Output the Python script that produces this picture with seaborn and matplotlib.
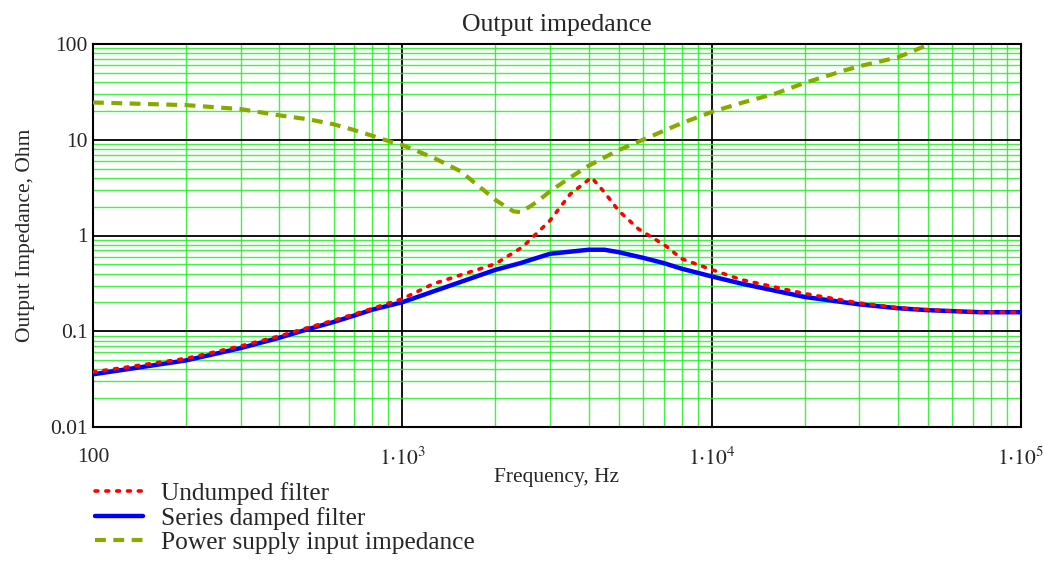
import matplotlib.pyplot as plt
import matplotlib.ticker as mticker
import seaborn as sns
import numpy as np
import pandas as pd

# values
freq_undamped = [100, 200, 300, 400, 500, 600, 700, 800, 1000, 1260, 2000, 2445, 3000, 3490,
                 4090, 4500, 5000, 5800, 7100, 8000, 10000, 12500, 20000, 30000, 40000, 50000,
                 74000, 100000]
z_undamped = [0.0375, 0.052, 0.070, 0.089, 0.110, 0.130, 0.151, 0.173, 0.218, 0.313, 0.506,
              0.757, 1.43, 2.71, 4.04, 2.83, 1.82, 1.17, 0.78, 0.571, 0.44, 0.345, 0.247,
              0.197, 0.176, 0.168, 0.158, 0.158]

freq_damped = [100, 200, 300, 400, 500, 600, 700, 800, 1000, 2000, 2405, 3000, 4000, 4500,
               5000, 6000, 7000, 8000, 10000, 12500, 20000, 30000, 40000, 50000, 74000, 100000]
z_damped = [0.0355, 0.0496, 0.0667, 0.0855, 0.106, 0.125, 0.146, 0.168, 0.201, 0.438, 0.514,
            0.644, 0.71, 0.71, 0.67, 0.585, 0.515, 0.45, 0.374, 0.314, 0.228, 0.191, 0.174,
            0.166, 0.158, 0.158]

freq_supply = [100, 200, 300, 400, 500, 600, 700, 800, 900, 1000, 1260, 1540, 1875, 2000,
               2285, 2415, 2710, 3000, 3490, 4000, 5000, 6000, 7000, 8000, 10000, 12500,
               16000, 20000, 26800, 30000, 40000, 50800]
z_supply = [24.5, 23.0, 20.9, 18.0, 16.3, 14.5, 12.6, 11.0, 9.7, 8.8, 6.5, 4.7, 2.8, 2.35,
            1.79, 1.75, 2.22, 2.89, 4.04, 5.35, 7.8, 10.0, 12.4, 14.9, 19.5, 24.3, 30.2,
            39.3, 52.8, 58.6, 72.6, 100]

series_names = ['Undumped filter', 'Series damped filter', 'Power supply input impedance']
y_ticks = [0.01, 0.1, 1, 10, 100]
y_tick_labels = ['0.01', '0.1', '1', '10', '100']
x_ticks = [100, 1000, 10000, 100000]
x_tick_labels = ['100', r'$1{\cdot}10^{3}$', r'$1{\cdot}10^{4}$', r'$1{\cdot}10^{5}$']

sns.set_style('white')
plt.rcParams['font.family'] = ['Liberation Serif', 'DejaVu Serif']
plt.rcParams['mathtext.fontset'] = 'stix'

fig = plt.figure(figsize=(10.43, 5.80), dpi=100)
ax = fig.add_axes([93 / 1043, 1 - 427 / 580, (1021 - 93) / 1043, (427 - 44) / 580])

df_u = pd.DataFrame({'f': freq_undamped, 'z': z_undamped})
df_d = pd.DataFrame({'f': freq_damped, 'z': z_damped})
df_s = pd.DataFrame({'f': freq_supply, 'z': z_supply})

sns.lineplot(data=df_u, x='f', y='z', ax=ax, color='#ff0000', linewidth=2.6,
             linestyle=(0, (0.8, 2.2)), dash_capstyle='round', label=series_names[0], zorder=4)
sns.lineplot(data=df_d, x='f', y='z', ax=ax, color='#0000ff', linewidth=3.2,
             label=series_names[1], zorder=3)
sns.lineplot(data=df_s, x='f', y='z', ax=ax, color='#88aa00', linewidth=3.0,
             linestyle=(0, (2.6, 1.8)), label=series_names[2], zorder=5)

ax.set_xscale('log')
ax.set_yscale('log')
ax.set_xlim(100, 100000)
ax.set_ylim(0.01, 100)

# grid: green minor lines, black decade lines
ax.xaxis.set_minor_locator(mticker.LogLocator(base=10, subs=np.arange(2, 10), numticks=20))
ax.yaxis.set_minor_locator(mticker.LogLocator(base=10, subs=np.arange(2, 10), numticks=20))
ax.grid(True, which='minor', color='#22ee22', linewidth=1.0, alpha=0.85)
ax.grid(True, which='major', color='black', linewidth=1.3)
ax.set_axisbelow(True)

ax.set_xticks(x_ticks)
ax.set_xticklabels(x_tick_labels)
ax.set_yticks(y_ticks)
ax.set_yticklabels(y_tick_labels)
ax.tick_params(which='both', length=0)
ax.tick_params(axis='x', labelsize=15.5, pad=15)
ax.tick_params(axis='y', labelsize=15.5, pad=4)
ax.xaxis.set_minor_formatter(mticker.NullFormatter())
ax.yaxis.set_minor_formatter(mticker.NullFormatter())

for spine in ax.spines.values():
    spine.set_color('black')
    spine.set_linewidth(1.5)

ax.set_title('Output impedance', fontsize=18.5, pad=9)
ax.set_xlabel('Frequency, Hz', fontsize=15.5, labelpad=-2)
ax.set_ylabel('Output Impedance, Ohm', fontsize=15.5, labelpad=11)

ax.legend(loc='upper left', bbox_to_anchor=(-0.009, -0.118), frameon=False, fontsize=18.3,
          handlelength=1.9, handletextpad=0.7, labelspacing=0.06, borderaxespad=0.0)

plt.savefig('out.png', dpi=100)
plt.close()
